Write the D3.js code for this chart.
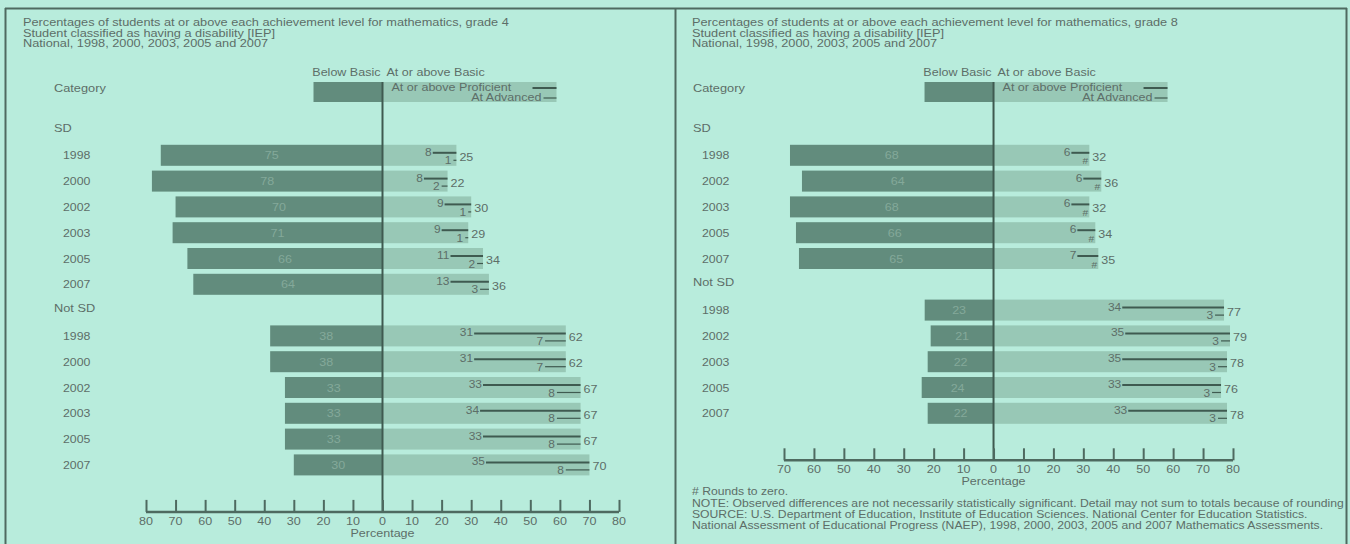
<!DOCTYPE html>
<html><head><meta charset="utf-8">
<script src="https://cdn.jsdelivr.net/npm/d3@7"></script>
<style>
html,body{margin:0;padding:0;background:#b8ecdc;}
svg{display:block;font-family:"Liberation Sans",Arial,sans-serif;}
</style></head><body>
<svg id="c" width="1350" height="544"></svg>
<script>
// ---------- DATA ----------
const g4Titles = ["Percentages of students at or above each achievement level for mathematics, grade 4",
  "Student classified as having a disability [IEP]", "National, 1998, 2000, 2003, 2005 and 2007"];
const g8Titles = ["Percentages of students at or above each achievement level for mathematics, grade 8",
  "Student classified as having a disability [IEP]", "National, 1998, 2000, 2003, 2005 and 2007"];
const groups = ["SD", "Not SD"];

const g4Years = ["1998", "2000", "2002", "2003", "2005", "2007"];
const g4SDBelow = [75, 78, 70, 71, 66, 64];
const g4SDBasic = [25, 22, 30, 29, 34, 36];
const g4SDProf = [8, 8, 9, 9, 11, 13];
const g4SDAdv = [1, 2, 1, 1, 2, 3];
const g4NotBelow = [38, 38, 33, 33, 33, 30];
const g4NotBasic = [62, 62, 67, 67, 67, 70];
const g4NotProf = [31, 31, 33, 34, 33, 35];
const g4NotAdv = [7, 7, 8, 8, 8, 8];

const g8Years = ["1998", "2002", "2003", "2005", "2007"];
const g8SDBelow = [68, 64, 68, 66, 65];
const g8SDBasic = [32, 36, 32, 34, 35];
const g8SDProf = [6, 6, 6, 6, 7];
const g8SDAdv = [0, 0, 0, 0, 0];       // "#" rounds to zero
const g8NotBelow = [23, 21, 22, 24, 22];
const g8NotBasic = [77, 79, 78, 76, 78];
const g8NotProf = [34, 35, 35, 33, 33];
const g8NotAdv = [3, 3, 3, 3, 3];

const g4Ticks = [-80, -70, -60, -50, -40, -30, -20, -10, 0, 10, 20, 30, 40, 50, 60, 70, 80];
const g8Ticks = [-70, -60, -50, -40, -30, -20, -10, 0, 10, 20, 30, 40, 50, 60, 70, 80];

const notes = ["# Rounds to zero.",
  "NOTE: Observed differences are not necessarily statistically significant. Detail may not sum to totals because of rounding",
  "SOURCE: U.S. Department of Education, Institute of Education Sciences. National Center for Education Statistics.",
  "National Assessment of Educational Progress (NAEP), 1998, 2000, 2003, 2005 and 2007 Mathematics Assessments."];

// ---------- STYLE ----------
const C = {
  text: "#5d6e68", dark: "#628c7d", light: "#98c8b6", inner: "#84a99a",
  line: "#3f5a50", axis: "#4e6a60"
};
const SX = 1.14;
const svg = d3.select("#c");

function txt(parent, x, y, s, o = {}) {
  return parent.append("text")
    .attr("transform", `translate(${x},${y}) scale(${o.sx || SX},1)`)
    .attr("text-anchor", o.anchor || "start")
    .attr("font-size", o.size || 11)
    .attr("fill", o.fill || C.text).text(s);
}

// panel frames
svg.append("line").attr("x1", 5).attr("x2", 1347).attr("y1", 8.5).attr("y2", 8.5)
  .attr("stroke", "#4e6a60").attr("stroke-width", 2);
[5.5, 675.5, 1346.5].forEach(x => svg.append("line").attr("x1", x).attr("x2", x)
  .attr("y1", 8).attr("y2", 544).attr("stroke", "#4e6a60").attr("stroke-width", 2));

function buildRows(years, sets) {
  const rows = [];
  groups.forEach((g, gi) => {
    rows.push({ header: g });
    const s = sets[gi];
    years.forEach((y, i) => rows.push({
      year: y, below: s.below[i], basic: s.basic[i], prof: s.prof[i], adv: s.adv[i],
      advLabel: s.adv[i] === 0 ? "#" : String(s.adv[i])
    }));
  });
  return rows;
}

function drawPanel(p) {
  const g = svg.append("g");
  const x = d3.scaleLinear().domain(p.domain).range(p.range);
  const x0 = x(0);
  const n = p.rows.length;
  const y = d3.scaleLinear().domain([0, n - 1]).range([129.5, 129.5 + (n - 1) * 25.8]);
  const bh = 21;

  // titles
  p.titles.forEach((t, i) => txt(g, p.left, 26 + i * 10.6, t, { size: 11.5, sx: 1.11 }));

  // legend
  g.append("rect").attr("x", x0 - 69).attr("y", 82).attr("width", 69).attr("height", 20).attr("fill", C.dark);
  g.append("rect").attr("x", x0).attr("y", 82).attr("width", 174).attr("height", 20).attr("fill", C.light);
  txt(g, x0 - 2, 76, "Below Basic", { anchor: "end" });
  txt(g, x0 + 4, 76, "At or above Basic");
  txt(g, x0 + 9, 91, "At or above Proficient");
  g.append("line").attr("x1", x0 + 150).attr("x2", x0 + 174).attr("y1", 88).attr("y2", 88)
    .attr("stroke", C.line).attr("stroke-width", 2);
  txt(g, x0 + 159, 101, "At Advanced", { anchor: "end" });
  g.append("line").attr("x1", x0 + 161).attr("x2", x0 + 174).attr("y1", 98).attr("y2", 98)
    .attr("stroke", C.line).attr("stroke-width", 1.2);
  txt(g, p.catX, 92, "Category", { size: 11.2 });

  // rows
  p.rows.forEach((r, i) => {
    const cy = y(i);
    if (r.header) {
      txt(g, p.catX, cy + 2, r.header, { size: 11.2 });
      return;
    }
    txt(g, p.catX + 9, cy + 4, r.year, { size: 11.2, sx: 1.1 });
    g.append("rect").attr("x", x(-r.below)).attr("y", cy - bh / 2).attr("width", x0 - x(-r.below))
      .attr("height", bh).attr("fill", C.dark);
    g.append("rect").attr("x", x0).attr("y", cy - bh / 2).attr("width", x(r.basic) - x0)
      .attr("height", bh).attr("fill", C.light);
    txt(g, (x(-r.below) + x0) / 2, cy + 4, r.below, { anchor: "middle", fill: C.inner });
    // proficient line
    const xp = x(r.basic - r.prof), xb = x(r.basic);
    g.append("line").attr("x1", xp).attr("x2", xb).attr("y1", cy - 2.5).attr("y2", cy - 2.5)
      .attr("stroke", C.line).attr("stroke-width", 2);
    txt(g, xp - 1, cy + 0.5, r.prof, { anchor: "end", size: 10.5 });
    // advanced line
    const xa = x(r.basic - r.adv);
    g.append("line").attr("x1", xa).attr("x2", xb).attr("y1", cy + 5).attr("y2", cy + 5)
      .attr("stroke", C.line).attr("stroke-width", 1.2);
    txt(g, xa - (r.adv === 0 ? 1 : 2), cy + 9, r.advLabel,
      { anchor: "end", size: r.adv === 0 ? 9 : 10.5 });
    // basic label
    txt(g, xb + 3, cy + 5.5, r.basic);
  });

  // zero line
  const axisY = y(n - 1) + 47;
  g.append("line").attr("x1", x0).attr("x2", x0).attr("y1", 82).attr("y2", axisY)
    .attr("stroke", C.line).attr("stroke-width", 2);

  // axis
  const ax = g.append("g").attr("transform", `translate(0,${axisY})`)
    .call(d3.axisTop(x).tickValues(p.ticks).tickSize(12).tickFormat(""));
  ax.select(".domain").attr("stroke", C.axis).attr("stroke-width", 2.5)
    .attr("d", `M${p.range[0]},0H${p.range[1]}`);
  ax.selectAll(".tick line").attr("stroke", C.axis).attr("stroke-width", 2);
  p.ticks.forEach(d => txt(g, x(d), axisY + 13, Math.abs(d), { anchor: "middle" }));
  txt(g, x0, axisY + 25, "Percentage", { anchor: "middle" });
  return axisY;
}

drawPanel({
  titles: g4Titles, left: 23, catX: 54, domain: [-80, 80], range: [146, 619], ticks: g4Ticks,
  rows: buildRows(g4Years, [
    { below: g4SDBelow, basic: g4SDBasic, prof: g4SDProf, adv: g4SDAdv },
    { below: g4NotBelow, basic: g4NotBasic, prof: g4NotProf, adv: g4NotAdv }])
});
drawPanel({
  titles: g8Titles, left: 692, catX: 693, domain: [-70, 80], range: [784, 1233], ticks: g8Ticks,
  rows: buildRows(g8Years, [
    { below: g8SDBelow, basic: g8SDBasic, prof: g8SDProf, adv: g8SDAdv },
    { below: g8NotBelow, basic: g8NotBasic, prof: g8NotProf, adv: g8NotAdv }])
});

notes.forEach((t, i) => txt(svg, 692, [495, 507, 518, 529][i], t, { size: 10.5, sx: 1.16 }));
</script>
</body></html>
